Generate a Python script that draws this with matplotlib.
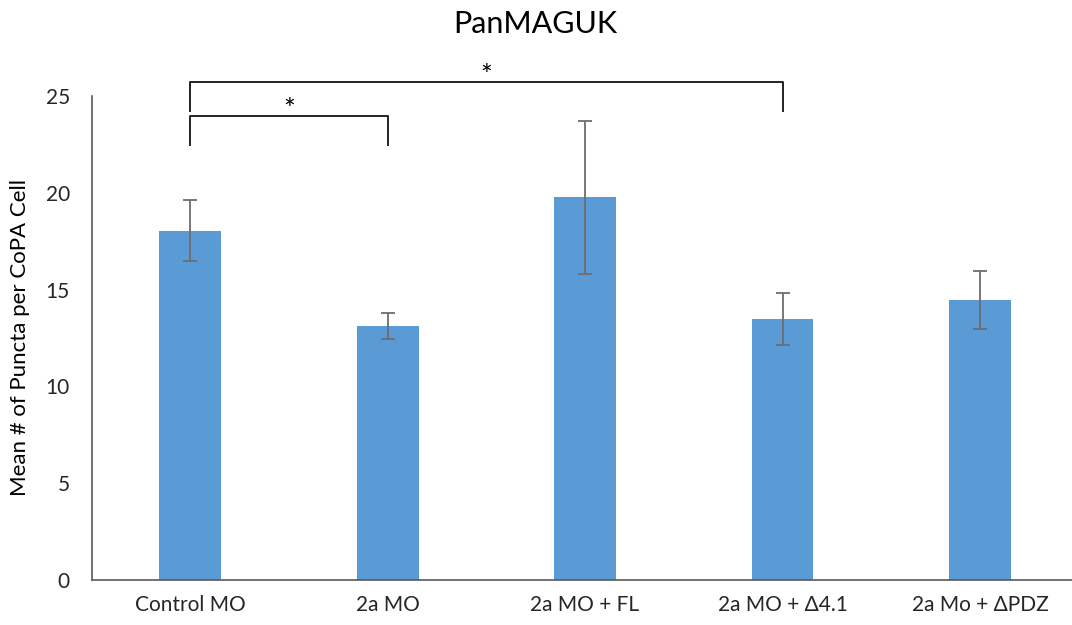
import matplotlib
matplotlib.use("Agg")
import matplotlib.pyplot as plt

categories = ["Control MO", "2a MO", "2a MO + FL", "2a MO + \u03944.1", "2a Mo + \u0394PDZ"]
means = [18.04, 13.12, 19.77, 13.48, 14.46]
errors = [1.58, 0.67, 3.96, 1.35, 1.50]
yticks = [0, 5, 10, 15, 20, 25]
# significance brackets: (start index, end index, bar height, drop height)
brackets = [(0, 1, 23.96, 22.46), (0, 3, 25.72, 24.22)]

plt.rcParams['font.family'] = ['Lato', 'DejaVu Sans']

fig = plt.figure(figsize=(10.72, 6.25), dpi=100)
ax = fig.add_axes([92/1072, 45/625, 1 - 92/1072, (580-96)/625])

x = list(range(len(categories)))
ax.bar(x, means, width=0.313, color="#5B9BD5", zorder=2)
ax.errorbar(x, means, yerr=errors, fmt="none", ecolor="#6d6d6d", elinewidth=1.3,
            capsize=5.2, capthick=1.3, zorder=3)

ax.set_xlim(-0.497, 4.466)
ax.set_ylim(0, 25)
ax.set_yticks(yticks)
ax.set_xticks(x)
ax.set_xticklabels(categories)
ax.tick_params(axis='both', length=0, labelsize=15, colors="#262626")
ax.tick_params(axis='x', pad=11)
ax.tick_params(axis='y', pad=16)
for s in ["top", "right"]:
    ax.spines[s].set_visible(False)
for s in ["left", "bottom"]:
    ax.spines[s].set_color("#595959")
    ax.spines[s].set_linewidth(1.2)

ax.set_ylabel("Mean # of Puncta per CoPA Cell", fontsize=16, color="black", labelpad=11)

for i0, i1, h, d in brackets:
    ax.plot([x[i0], x[i0], x[i1], x[i1]], [d, h, h, d], color="#222222", lw=1.4,
            clip_on=False, zorder=4)
    ax.text((x[i0] + x[i1]) / 2, h + 0.25, "*", ha="center", va="center",
            fontsize=20, color="black", clip_on=False)

fig.text(535 / 1072, 1 - 24/625, "PanMAGUK", ha="center", va="center",
         fontsize=22, color="black")

fig.savefig("out.png", dpi=100)
